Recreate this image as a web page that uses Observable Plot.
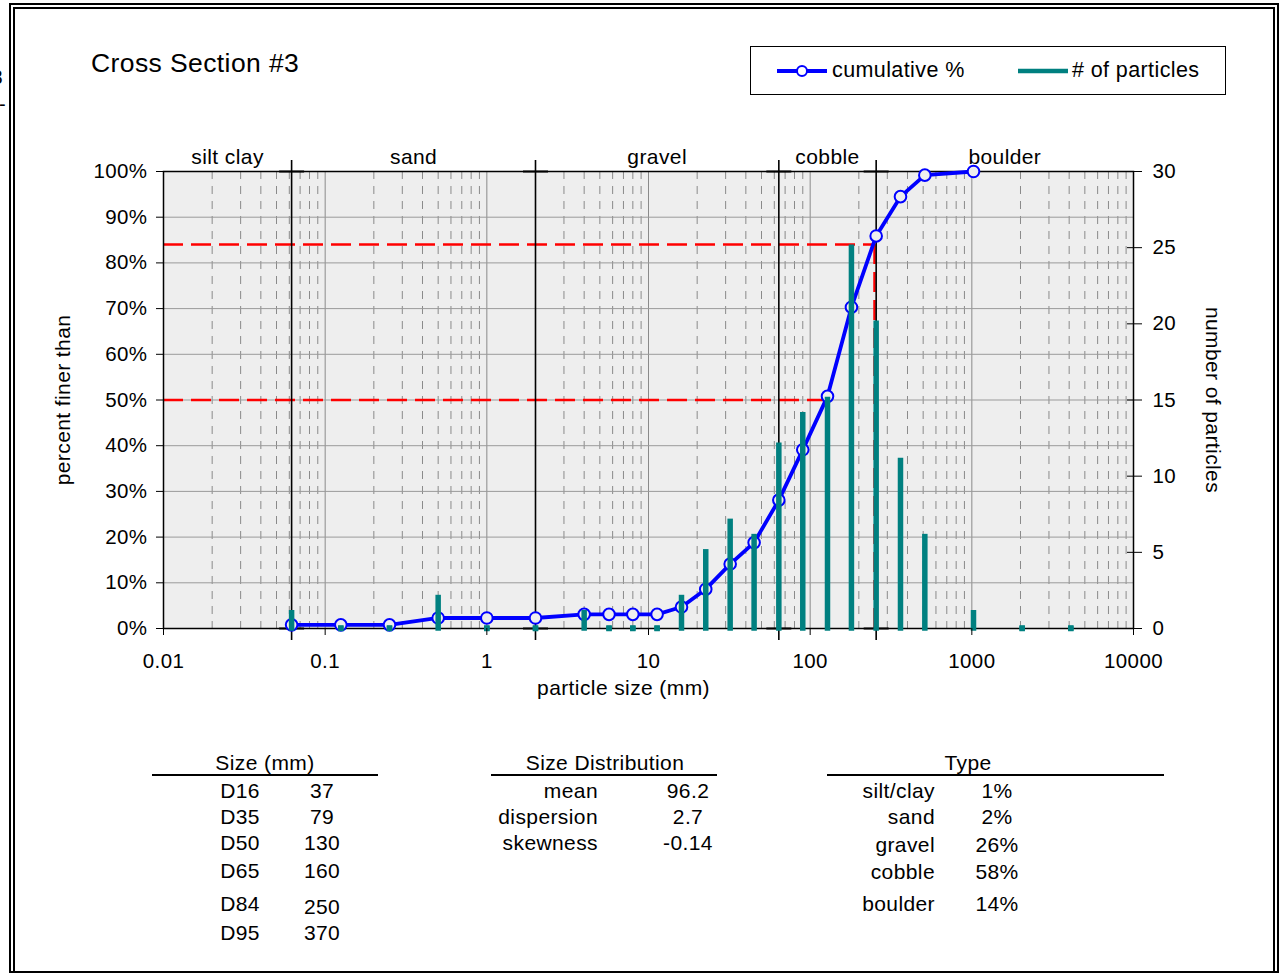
<!DOCTYPE html>
<html>
<head>
<meta charset="utf-8">
<script src="https://cdn.jsdelivr.net/npm/d3@7"></script>
<script src="https://cdn.jsdelivr.net/npm/@observablehq/plot@0.6"></script>
<style>
  body { margin: 0; background: #fff; font-family: "Liberation Sans", Arial, sans-serif; color: #000; }
  #page { position: relative; width: 1282px; height: 974px; overflow: hidden; background: #fff; }
  .abs { position: absolute; white-space: nowrap; line-height: 1; letter-spacing: 0.4px; }
  .box { position: absolute; box-sizing: border-box; border: 2px solid #000; }
  .rule { position: absolute; height: 2px; background: #000; }
</style>
</head>
<body>
<div id="page"></div>
<script>
// ---------------- data ----------------
const sizes = [0.062, 0.125, 0.25, 0.5, 1, 2, 4, 5.7, 8, 11.3, 16, 22.6, 32, 45, 64, 90, 128, 180, 256, 362, 512, 1024, 2048, 4096];
const counts = [1, 0, 0, 2, 0, 0, 1, 0, 0, 0, 2, 5, 7, 6, 12, 14, 15, 25, 20, 11, 6, 1, 0, 0];
const cumulative = [0.8, 0.8, 0.8, 2.3, 2.3, 2.3, 3.1, 3.1, 3.1, 3.1, 4.7, 8.6, 14.1, 18.8, 28.1, 39.1, 50.8, 70.3, 85.9, 94.5, 99.2, 100];

const classNames = ["silt clay", "sand", "gravel", "cobble", "boulder"];
const classBounds = [0.062, 2, 64, 256];

const xTicks = [0.01, 0.1, 1, 10, 100, 1000, 10000];
const xTickLabels = ["0.01", "0.1", "1", "10", "100", "1000", "10000"];
const yTicks = [0, 10, 20, 30, 40, 50, 60, 70, 80, 90, 100];
const rightTicks = [0, 5, 10, 15, 20, 25, 30];
const rightMax = 30;

const sizeLabels = ["D16", "D35", "D50", "D65", "D84", "D95"];
const sizeValues = [37, 79, 130, 160, 250, 370];
const distLabels = ["mean", "dispersion", "skewness"];
const distValues = ["96.2", "2.7", "-0.14"];
const typeLabels = ["silt/clay", "sand", "gravel", "cobble", "boulder"];
const typeValues = ["1%", "2%", "26%", "58%", "14%"];

const refPercents = [84, 50];
const refSizes = [sizeValues[4], sizeValues[2]];

// ---------------- derived ----------------
const k = 100 / rightMax;
const bars = sizes.map((s, i) => ({s, c: counts[i]}));
const cum = cumulative.map((p, i) => ({s: sizes[i], p}));
const refs = refPercents.map((p, i) => ({p, s: refSizes[i]}));
const edges = [0.01, ...classBounds, 10000];
const mids = classNames.map((n, i) => Math.sqrt(edges[i] * edges[i + 1]));
const minor = d3.scaleLog().domain([0.01, 10000]).ticks()
  .filter(v => Math.abs(Math.log10(v) - Math.round(Math.log10(v))) > 1e-6);
const caps = classBounds.flatMap(b => [{b, y: 0}, {b, y: 100}]);
const capSymbol = {draw(ctx, size) { const r = Math.sqrt(size / Math.PI); ctx.moveTo(-r, 0); ctx.lineTo(r, 0); }};

const FONT = "Liberation Sans, Arial, sans-serif";

const chart = Plot.plot({
  width: 1282, height: 720,
  marginLeft: 163, marginRight: 149, marginTop: 171, marginBottom: 92,
  style: {background: "transparent", fontFamily: FONT, fontSize: "20.5px", color: "#000", overflow: "visible", letterSpacing: "0.4px"},
  x: {type: "log", domain: [0.01, 10000]},
  y: {domain: [0, 100]},
  marks: [
    Plot.frame({fill: "#eeeeee", stroke: null}),
    Plot.ruleX(minor, {stroke: "#8a8a8a", strokeWidth: 1, strokeDasharray: "8,7"}),
    Plot.ruleX(xTicks, {stroke: "#8a8a8a", strokeWidth: 1}),
    Plot.ruleY(yTicks, {stroke: "#9a9a9a", strokeWidth: 1}),
    Plot.ruleY(refs, {y: "p", x1: 0.01, x2: "s", stroke: "#ff0000", strokeWidth: 2.5, strokeDasharray: "20,8"}),
    Plot.ruleX(refs, {x: "s", y1: 0, y2: "p", stroke: "#ff0000", strokeWidth: 2.5, strokeDasharray: "20,8"}),
    Plot.ruleX(classBounds, {y1: -2.6, y2: 102.4, stroke: "#000", strokeWidth: 1.6}),
    Plot.dot(caps, {x: "b", y: "y", symbol: capSymbol, r: 12.5, stroke: "#000", strokeWidth: 2, fill: "none"}),
    Plot.frame({stroke: "#000", strokeWidth: 1.5}),
    Plot.line(cum, {x: "s", y: "p", stroke: "#0000ff", strokeWidth: 3.8}),
    Plot.dot(cum, {x: "s", y: "p", r: 5.8, stroke: "#0000ff", strokeWidth: 2, fill: "#eeeeee"}),
    Plot.ruleX(bars, {x: "s", y1: 0, y2: d => d.c * k, stroke: "#008080", strokeWidth: 5.5, strokeLinecap: "square"}),
    Plot.dot(bars.filter(d => d.c === 0), {x: "s", y: 0, symbol: "square", r: 3.1, fill: "#008080", stroke: null}),
    Plot.axisX(xTicks, {anchor: "bottom", tickSize: 7, tickPadding: 18, tickFormat: d => xTickLabels[xTicks.indexOf(d)], fontSize: 20.5, label: null}),
    Plot.axisY(yTicks, {anchor: "left", tickSize: 7, tickPadding: 9, tickFormat: d => d + "%", fontSize: 20.5, label: null}),
    Plot.axisY(rightTicks.map(v => v * k), {anchor: "right", tickSize: 8, tickPadding: 11, tickFormat: d => String(Math.round(d / k)), fontSize: 20.5, label: null}),
    Plot.axisY(rightTicks.map(v => v * k), {anchor: "right", tickSize: 7, dx: -7, tickFormat: () => "", label: null}),
    Plot.text(classNames, {x: (d, i) => mids[i], y: 100, dy: -14, fontSize: 21, lineAnchor: "middle", textAnchor: "middle"}),
    Plot.text(["percent finer than"], {frameAnchor: "left", dx: -100, rotate: -90, fontSize: 21, textAnchor: "middle", lineAnchor: "middle"}),
    Plot.text(["particle size (mm)"], {frameAnchor: "bottom", dx: -25, dy: 60, fontSize: 21, textAnchor: "middle", lineAnchor: "middle"}),
    Plot.text(["number of particles"], {frameAnchor: "right", dx: 79, rotate: 90, fontSize: 21, textAnchor: "middle", lineAnchor: "middle"})
  ]
});

const page = document.getElementById("page");
chart.style.position = "absolute";
chart.style.left = "0px";
chart.style.top = "0px";
page.appendChild(chart);

function txt(s, x, base, fs, anchor = "start") {
  const d = document.createElement("div");
  d.className = "abs";
  d.textContent = s;
  d.style.left = x + "px";
  d.style.top = (base - 0.8465 * fs) + "px";
  d.style.fontSize = fs + "px";
  if (anchor === "middle") d.style.transform = "translateX(-50%)";
  else if (anchor === "end") d.style.transform = "translateX(-100%)";
  page.appendChild(d);
  return d;
}
function hline(x1, x2, y) {
  const d = document.createElement("div");
  d.className = "rule";
  d.style.left = x1 + "px"; d.style.width = (x2 - x1) + "px"; d.style.top = (y - 1) + "px";
  page.appendChild(d);
}
function box(l, t, r, b, bw = 2) {
  const d = document.createElement("div");
  d.className = "box";
  d.style.left = l + "px"; d.style.top = t + "px";
  d.style.width = (r - l) + "px"; d.style.height = (b - t) + "px";
  d.style.borderWidth = bw + "px";
  page.appendChild(d);
}

// outer double frame
box(9, 3, 1279, 973);
box(13, 7, 1275, 973);

// clipped artifacts at the left edge (part of a neighbouring text in the original)
txt("3", 3, 84, 20, "end");
txt("-", 6, 111, 20, "end");

// title
txt("Cross Section #3", 91, 72, 26.5);

// legend
const lg = document.createElement("div");
lg.style.cssText = "position:absolute;left:750px;top:46px;width:476px;height:49px;box-sizing:border-box;border:1px solid #000;background:#fff;";
page.appendChild(lg);
const lsvg = d3.create("svg").attr("width", 476).attr("height", 49)
  .style("position", "absolute").style("left", "750px").style("top", "46px");
lsvg.append("line").attr("x1", 27).attr("x2", 77).attr("y1", 25).attr("y2", 25).attr("stroke", "#0000ff").attr("stroke-width", 3.8);
lsvg.append("circle").attr("cx", 52).attr("cy", 25).attr("r", 5).attr("fill", "#fff").attr("stroke", "#0000ff").attr("stroke-width", 2);
lsvg.append("line").attr("x1", 268).attr("x2", 318).attr("y1", 25).attr("y2", 25).attr("stroke", "#008080").attr("stroke-width", 4.5);
page.appendChild(lsvg.node());
txt("cumulative %", 832, 78, 21.5);
txt("# of particles", 1072, 78, 21.5);

// tables
const TF = 21;
txt("Size (mm)", 265, 770, TF, "middle");
hline(152, 378, 775);
const sizeBase = [798, 824, 850, 878, 911, 940];
const sizeValBase = [798, 824, 850, 878, 914, 940];
sizeLabels.forEach((s, i) => txt(s, 240, sizeBase[i], TF, "middle"));
sizeValues.forEach((v, i) => txt(String(v), 322, sizeValBase[i], TF, "middle"));

txt("Size Distribution", 605, 770, TF, "middle");
hline(491, 717, 775);
const distBase = [798, 824, 850];
distLabels.forEach((s, i) => txt(s, 598, distBase[i], TF, "end"));
distValues.forEach((v, i) => txt(v, 688, distBase[i], TF, "middle"));

txt("Type", 968, 770, TF, "middle");
hline(827, 1164, 775);
const typeBase = [798, 824, 852, 879, 911];
typeLabels.forEach((s, i) => txt(s, 935, typeBase[i], TF, "end"));
typeValues.forEach((v, i) => txt(v, 997, typeBase[i], TF, "middle"));
</script>
</body>
</html>
